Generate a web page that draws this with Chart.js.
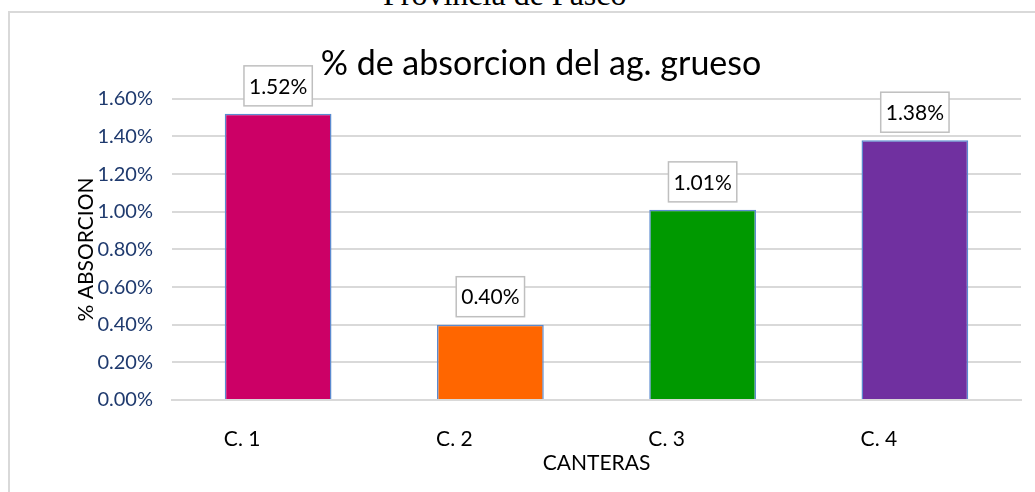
<!DOCTYPE html>
<html>
<head>
<meta charset="utf-8">
<script src="https://cdn.jsdelivr.net/npm/chart.js@4/dist/chart.umd.min.js"></script>
<style>
  html, body { margin:0; padding:0; background:#fff; overflow:hidden; }
  body { width:1035px; height:492px; position:relative; }
  #doc { position:absolute; left:383px; top:-24px; font:32px "Liberation Serif", serif; color:#000; white-space:nowrap; }
  #frame { position:absolute; left:8px; top:11px; width:1100px; height:600px; border-left:2px solid #d9d9d9; border-top:2px solid #d9d9d9; }
  #wrap { position:absolute; left:0; top:0; width:1035px; height:492px; }
</style>
</head>
<body>
<div id="doc">Provincia de Pasco</div>
<div id="frame"></div>
<div id="wrap"><canvas id="absChart"></canvas></div>
<script>
// data
const canteras = ['C. 1', 'C. 2', 'C. 3', 'C. 4'];
const absorcion = [1.52, 0.40, 1.01, 1.38];
const barColors = ['#cc0066', '#ff6600', '#009900', '#7030a0'];
const yTicks = [0, 0.2, 0.4, 0.6, 0.8, 1.0, 1.2, 1.4, 1.6];

const FONT = 'Lato, "Open Sans", sans-serif';

// boxed value labels above the bars
const boxLabels = {
  id: 'boxLabels',
  afterDatasetsDraw(chart) {
    const ctx = chart.ctx;
    const meta = chart.getDatasetMeta(0);
    ctx.save();
    ctx.font = '21px ' + FONT;
    ctx.textAlign = 'center';
    ctx.textBaseline = 'middle';
    meta.data.forEach((bar, i) => {
      const txt = absorcion[i].toFixed(2) + '%';
      const w = ctx.measureText(txt).width + 10;
      const h = 40;
      const x = bar.x - w / 2;
      const y = bar.y - 8 - h;
      ctx.fillStyle = '#fff';
      ctx.fillRect(x, y, w, h);
      ctx.strokeStyle = '#bfbfbf';
      ctx.lineWidth = 1.5;
      ctx.strokeRect(x, y, w, h);
      ctx.fillStyle = '#000';
      ctx.fillText(txt, bar.x, y + h / 2 + 1);
    });
    ctx.restore();
  }
};

new Chart(document.getElementById('absChart'), {
  type: 'bar',
  data: {
    labels: canteras,
    datasets: [{
      data: absorcion,
      backgroundColor: barColors,
      borderColor: '#5b8bd0',
      borderWidth: 1.5,
      barPercentage: 0.503,
      categoryPercentage: 1
    }]
  },
  options: {
    responsive: true,
    maintainAspectRatio: false,
    animation: false,
    layout: { padding: { left: 61, right: 14, top: 0, bottom: 0 } },
    plugins: {
      legend: { display: false },
      tooltip: { enabled: false },
      title: {
        display: true,
        text: '% de absorcion del ag. grueso',
        color: '#000',
        font: { family: FONT, size: 34, weight: 'normal' },
        padding: { top: 44, bottom: 14 }
      }
    },
    scales: {
      x: {
        grid: { display: false },
        border: { color: '#d9d9d9', width: 2 },
        ticks: { color: '#000', font: { family: FONT, size: 21 }, padding: 19, labelOffset: -36 },
        title: {
          display: true, text: 'CANTERAS', color: '#000',
          font: { family: FONT, size: 21 }, padding: { top: 0, bottom: 16 }
        },
        afterFit(s) { s.height = 92; }
      },
      y: {
        min: 0, max: 1.6,
        afterBuildTicks(s) { s.ticks = yTicks.map(v => ({ value: v })); },
        grid: { color: '#d9d9d9', lineWidth: 2, drawTicks: false },
        border: { display: false },
        ticks: {
          color: '#1f3a6e', font: { family: FONT, size: 20 }, padding: 19,
          callback: v => v.toFixed(2) + '%'
        },
        title: {
          display: true, text: '% ABSORCION', color: '#000',
          font: { family: FONT, size: 21 }, padding: { top: 13, bottom: 0 }
        },
        afterFit(s) { s.width = 111; }
      }
    }
  },
  plugins: [boxLabels]
});
</script>
</body>
</html>
